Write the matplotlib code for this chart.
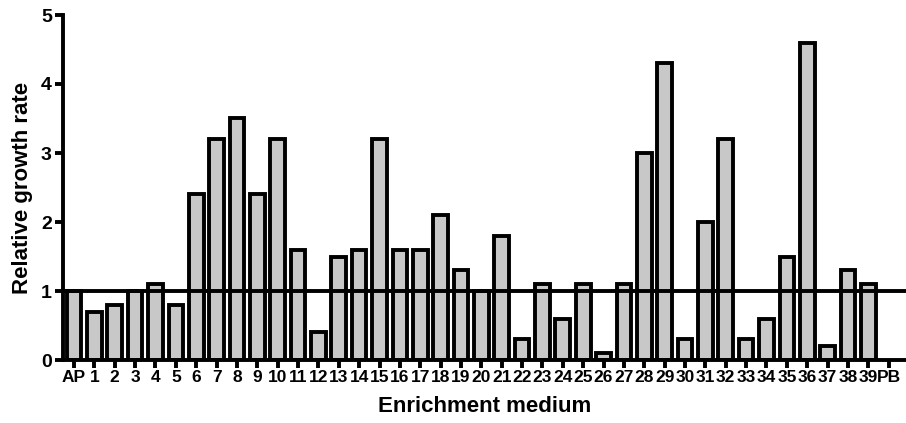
import matplotlib
matplotlib.use("Agg")
import matplotlib.pyplot as plt

categories = ["AP"] + [str(i) for i in range(1, 40)] + ["PB"]
values = [1.0, 0.7, 0.8, 1.0, 1.1, 0.8, 2.4, 3.2, 3.5, 2.4, 3.2,
          1.6, 0.4, 1.5, 1.6, 3.2, 1.6, 1.6, 2.1, 1.3, 1.0,
          1.8, 0.3, 1.1, 0.6, 1.1, 0.1, 1.1, 3.0, 4.3, 0.3,
          2.0, 3.2, 0.3, 0.6, 1.5, 4.6, 0.2, 1.3, 1.1, 0.0]
y_ticks = [0, 1, 2, 3, 4, 5]
reference_level = 1.0

plt.rcParams['font.family'] = ['Liberation Sans', 'DejaVu Sans']
plt.rcParams['font.weight'] = 'bold'

fig = plt.figure(figsize=(9.06, 4.23), dpi=100)
ax = fig.add_axes([63/906, 63/423, 1 - 63/906, 345/423])

x = list(range(len(categories)))
plot_vals = [v if v > 0 else float('nan') for v in values]
ax.bar(x, plot_vals, width=0.72, color='#c8c8c8', edgecolor='black',
       linewidth=2.8, zorder=2)
ax.axhline(reference_level, color='black', linewidth=2.8, zorder=3)

ax.set_xlim(-0.54, 40.85)
ax.set_ylim(0, 5)
ax.set_yticks(y_ticks)
ax.set_xticks(x)
ax.set_xticklabels(categories, fontsize=12.5, fontweight='bold')
ax.set_yticklabels([str(t) for t in y_ticks], fontsize=14, fontweight='bold')

for s in ['top', 'right']:
    ax.spines[s].set_visible(False)
for s in ['left', 'bottom']:
    ax.spines[s].set_linewidth(2.8)
    ax.spines[s].set_zorder(4)
ax.tick_params(axis='both', width=2.8, length=6, pad=2)
ax.tick_params(axis='x', pad=1)

ax.set_xlabel('Enrichment medium', fontsize=16, fontweight='bold', labelpad=8)
ax.set_ylabel('Relative growth rate', fontsize=16, fontweight='bold', labelpad=6)

fig.savefig('out.png', dpi=100)
